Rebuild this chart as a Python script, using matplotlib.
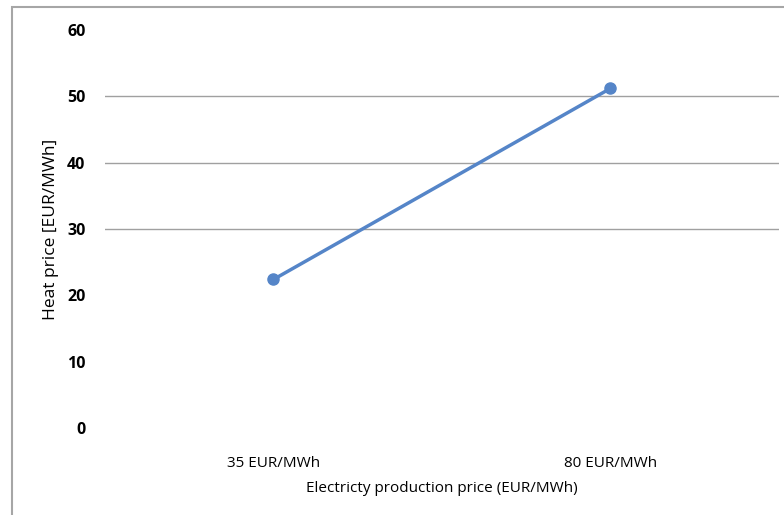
import matplotlib.pyplot as plt
from matplotlib.patches import Rectangle

categories = ["35 EUR/MWh", "80 EUR/MWh"]
heat_price = [22.4, 51.2]
y_ticks = [0, 10, 20, 30, 40, 50, 60]
grid_values = [30, 40, 50]

plt.rcParams['font.family'] = ['Open Sans', 'DejaVu Sans']

fig = plt.figure(figsize=(7.84, 5.15), dpi=100)
ax = fig.add_axes([0.1339, 0.1689, 0.8597, 0.7728])

# outer frame of the chart area
fig.patches.append(Rectangle((12/784, -0.05), 1.0, 1 - 7/515 + 0.05, transform=fig.transFigure,
                             fill=False, edgecolor="#a6a6a6", linewidth=1.5))

x = [0.5, 1.5]
ax.plot(x, heat_price, color="#5585c8", linewidth=2.5, marker="o", markersize=8,
        solid_capstyle="round")

ax.set_xlim(0, 2)
ax.set_ylim(0, 60)
for g in grid_values:
    ax.axhline(g, color="#a0a0a0", linewidth=1, zorder=0)

ax.set_xticks(x)
ax.set_xticklabels(categories, fontsize=11)
ax.set_yticks(y_ticks)
ax.set_yticklabels([str(v) for v in y_ticks], fontsize=11.5, fontweight="bold")
ax.tick_params(axis="both", length=0)
ax.tick_params(axis="y", pad=14)
ax.tick_params(axis="x", pad=20)
for s in ax.spines.values():
    s.set_visible(False)

ax.set_xlabel("Electricty production price (EUR/MWh)", fontsize=11, labelpad=7)
ax.set_ylabel("Heat price [EUR/MWh]", fontsize=12.5, labelpad=6)

fig.savefig("out.png", dpi=100)
